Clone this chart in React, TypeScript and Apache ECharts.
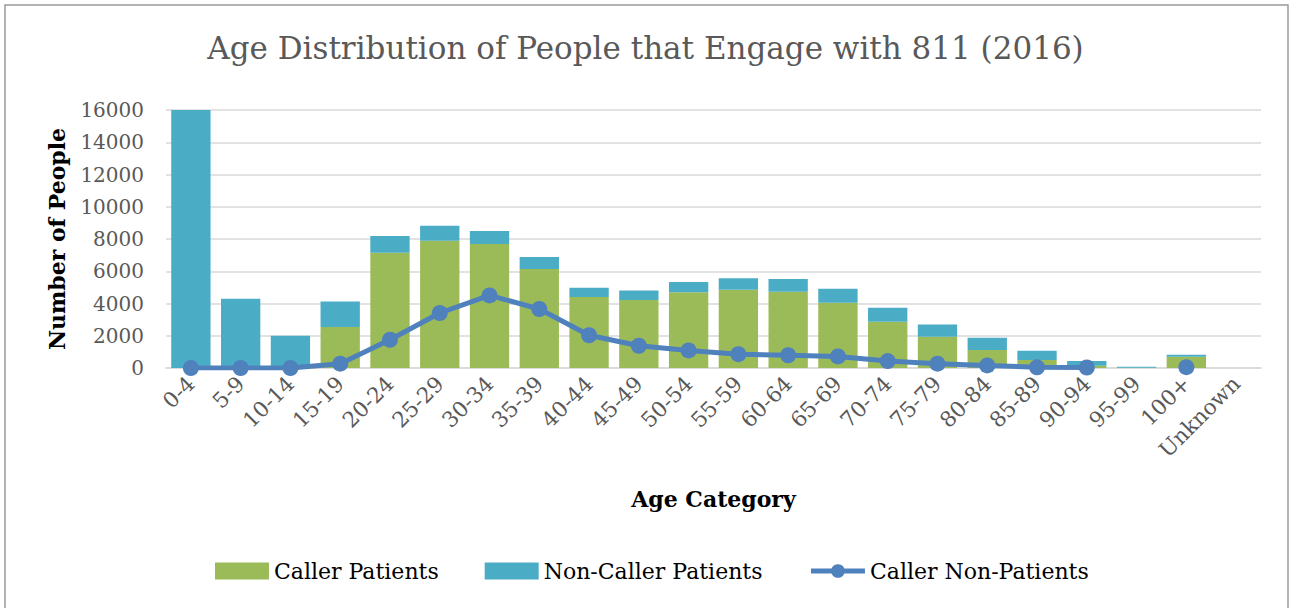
import React, { useEffect, useRef } from "react";
import * as echarts from "echarts";

const categories = ["0-4","5-9","10-14","15-19","20-24","25-29","30-34","35-39","40-44","45-49","50-54","55-59","60-64","65-69","70-74","75-79","80-84","85-89","90-94","95-99","100+","Unknown"];
const callerPatients = [0,0,0,2540,7150,7890,7690,6140,4410,4210,4690,4860,4730,4050,2870,1940,1110,490,140,20,700,0];
const nonCallerPatients = [16000,4300,2000,1590,1030,930,800,740,560,600,640,700,790,870,870,760,770,580,290,60,120,0];
const callerNonPatients: (number | null)[] = [0,0,0,270,1750,3410,4500,3660,2030,1380,1090,860,790,720,430,270,160,40,30,null,50,null];

const FONT = "DejaVu Serif";

export default function App() {
  const ref = useRef<HTMLDivElement>(null);
  useEffect(() => {
    if (!ref.current) return;
    const chart = echarts.init(ref.current, null, { renderer: "svg" });
    chart.setOption({
      animation: false,
      backgroundColor: "#ffffff",
      textStyle: { fontFamily: FONT },
      title: {
        text: "Age Distribution of People that Engage with 811 (2016)",
        left: "center",
        top: 27,
        textStyle: { fontFamily: FONT, fontSize: 31, fontWeight: "normal", color: "#595959" },
      },
      graphic: [
        {
          type: "rect",
          shape: { x: 5, y: 5, width: 1283, height: 640 },
          style: { fill: "none", stroke: "#9a9a9a", lineWidth: 1.5 },
          silent: true,
        },
      ],
      legend: {
        left: 210,
        top: 555,
        itemWidth: 54,
        itemHeight: 17,
        itemGap: 46,
        textStyle: { fontFamily: FONT, fontSize: 22, color: "#000000" },
        data: [
          { name: "Caller Patients", icon: "rect" },
          { name: "Non-Caller Patients", icon: "rect" },
          { name: "Caller Non-Patients", lineStyle: { width: 5 } },
        ],
      },
      grid: { left: 166, right: 30, top: 110, bottom: 240, containLabel: false },
      xAxis: {
        type: "category",
        data: categories,
        name: "Age Category",
        nameLocation: "middle",
        nameGap: 120,
        nameTextStyle: { fontFamily: FONT, fontSize: 22, fontWeight: "bold", color: "#000000" },
        axisLine: { show: true, lineStyle: { color: "#d9d9d9", width: 1.5 } },
        axisTick: { show: false },
        axisLabel: { rotate: 45, interval: 0, margin: 12, fontFamily: FONT, fontSize: 21.5, color: "#595959" },
      },
      yAxis: {
        type: "value",
        min: 0,
        max: 16000,
        interval: 2000,
        name: "Number of People",
        nameLocation: "middle",
        nameGap: 98,
        nameTextStyle: { fontFamily: FONT, fontSize: 22, fontWeight: "bold", color: "#000000" },
        axisLine: { show: false },
        axisTick: { show: false },
        axisLabel: { margin: 22, fontFamily: FONT, fontSize: 20, color: "#595959", formatter: (v: number) => String(v) },
        splitLine: { lineStyle: { color: "#d9d9d9", width: 1.5 } },
      },
      series: [
        {
          name: "Caller Patients",
          type: "bar",
          stack: "patients",
          data: callerPatients,
          barCategoryGap: "21%",
          itemStyle: { color: "#9BBB59" },
        },
        {
          name: "Non-Caller Patients",
          type: "bar",
          stack: "patients",
          data: nonCallerPatients,
          itemStyle: { color: "#4BACC6" },
        },
        {
          name: "Caller Non-Patients",
          type: "line",
          data: callerNonPatients,
          connectNulls: false,
          symbol: "circle",
          symbolSize: 16,
          lineStyle: { color: "#4F81BD", width: 5 },
          itemStyle: { color: "#4F81BD" },
        },
      ],
    });
    return () => chart.dispose();
  }, []);
  return (
    <div
      ref={ref}
      style={{ position: "fixed", left: 0, top: 0, width: 1291, height: 608 }}
    />
  );
}
